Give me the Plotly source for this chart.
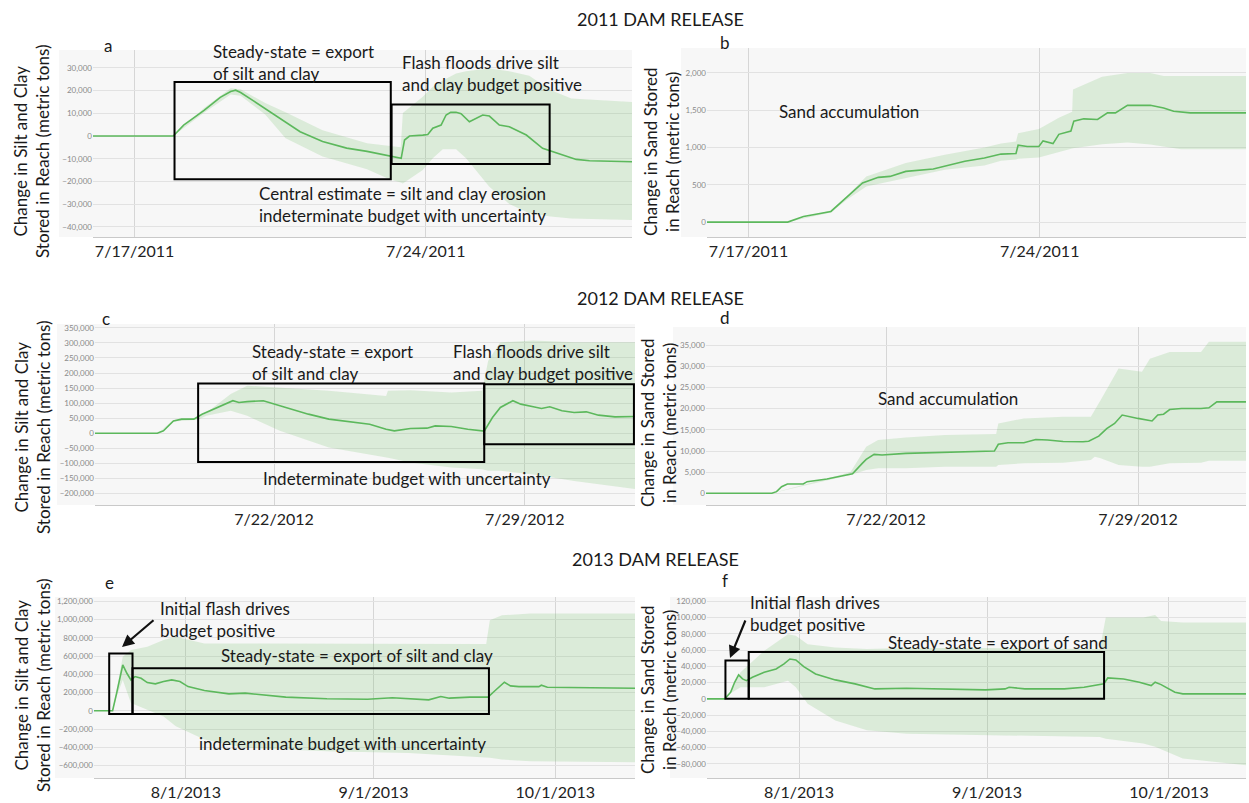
import pandas as pd
import plotly.graph_objects as go

W, H = 1249, 803
FONT = "Lato, 'Open Sans', sans-serif"
LINE_COLOR = "#5cb85c"
BAND_COLOR = "rgba(110,190,100,0.2)"

# ---------------- data (days since panel start date) ----------------
# Panel a: 2011 silt & clay (start 2011-07-16)
A_LINE_DAYS = [0, 1.93, 2.18, 2.67, 3.06, 3.31, 3.43, 3.55, 3.85, 4.14, 4.63, 4.98, 5.52, 6.10, 6.59, 6.99,
               7.41, 7.49, 7.61, 7.93, 8.05, 8.17, 8.37, 8.49, 8.60, 8.73, 8.85, 9.05, 9.37, 9.53, 9.77,
               10.01, 10.42, 10.81, 11.14, 11.62, 11.94, 12.96]
A_LINE = [0, 0, 4760, 11260, 17030, 19620, 20200, 19190, 15580, 11980, 6200, 1880, -2450, -5340, -6780, -8230,
          -9850, -1760, 0, 400, 700, 3400, 4850, 9260, 10400, 10440, 9800, 6300, 9260, 8800, 4850,
          4100, 440, -5430, -7350, -10300, -10880, -11320]
A_BAND_DAYS = [0, 1.93, 2.67, 3.31, 3.55, 4.14, 4.63, 5.52, 6.59, 7.13, 7.40, 7.45, 7.93, 8.17, 8.41, 8.73,
               8.97, 9.21, 9.53, 10.01, 10.49, 11.0, 11.5, 12.96]
A_UPPER = [0, 0, 12300, 21000, 20600, 14500, 10500, 2500, -3200, -4500, -5000, 10100, 17300, 21700, 24500, 27500,
           28500, 29100, 29800, 28500, 26500, 20300, 16500, 15000]
A_LOWER = [0, 0, 10300, 18300, 17700, 9500, -1000, -9000, -14700, -19000, -20500, -20900, -15000, -9850, -5870, -5870,
           -9850, -15000, -22360, -30000, -34000, -35500, -36400, -37000]

# Panel b: 2011 sand (start 2011-07-16)
B_LINE_DAYS = [0, 1.94, 2.32, 2.98, 3.74, 4.12, 4.40, 4.78, 5.44, 6.20, 6.67, 7.07, 7.43, 7.48, 7.70, 7.98,
               8.08, 8.32, 8.46, 8.75, 8.82, 9.06, 9.39, 9.63, 9.82, 10.11, 10.66, 10.98, 11.22, 11.62, 12.96]
B_LINE = [0, 0, 76, 143, 524, 600, 613, 680, 712, 815, 860, 912, 920, 1031, 1013, 1013,
          1089, 1053, 1177, 1221, 1354, 1385, 1376, 1465, 1465, 1566, 1566, 1531, 1487, 1465, 1465]
B_BAND_DAYS = [0, 1.94, 2.98, 3.36, 3.83, 4.78, 5.72, 6.67, 7.07, 7.43, 7.48, 7.98, 8.46, 8.78, 8.80, 9.5,
               10.11, 10.66, 10.98, 11.4, 12.96]
B_UPPER = [0, 0, 160, 345, 613, 792, 904, 1000, 1055, 1080, 1190, 1250, 1400, 1480, 1780, 1950,
           2000, 2000, 1960, 1960, 1960]
B_LOWER = [0, 0, 130, 300, 479, 591, 703, 760, 823, 840, 850, 867, 934, 978, 990, 1045,
           1067, 1040, 1010, 978, 978]

# Panel c: 2012 silt & clay (start 2012-07-17)
C_LINE_DAYS = [0, 1.74, 1.91, 2.19, 2.42, 2.76, 2.99, 3.33, 3.62, 3.85, 4.02, 4.25, 4.70, 4.93, 5.39, 5.96,
               6.53, 7.10, 7.67, 8.13, 8.36, 8.81, 9.27, 9.50, 9.95, 10.41, 10.75, 10.87, 11.10, 11.32, 11.67,
               11.89, 12.24, 12.47, 12.70, 13.04, 13.38, 13.72, 14.06, 14.52, 15.08]
C_LINE = [0, 0, 7800, 41000, 46700, 46700, 63000, 80000, 96700, 108000, 102000, 105000, 108000, 100000, 85500, 63300,
          46700, 38900, 30000, 13300, 7800, 15600, 16700, 24400, 22200, 13300, 7800, 7000, 52000, 85500, 108000,
          96700, 87800, 82000, 87800, 74400, 68900, 71000, 60000, 54400, 55600]
C_BAND_DAYS = [0, 1.74, 2.19, 2.88, 3.11, 3.79, 4.25, 5.16, 6.53, 8.13, 8.18, 8.81, 9.95, 10.81, 10.98, 11.32,
               12.24, 13.38, 15.15]
C_UPPER = [0, 0, 43000, 52000, 68000, 130000, 158000, 152000, 141000, 124000, 141000, 143000, 135000, 141000,
           241000, 302000, 308000, 302000, 302000]
C_LOWER = [0, 0, 39000, 45000, 57800, 74400, 57800, 7800, -47800, -81000, -82000, -97800, -114000, -120000,
           -125000, -125000, -137000, -159000, -187000]

# Panel d: 2012 sand (start 2012-07-17)
D_LINE_DAYS = [0, 1.83, 1.96, 2.10, 2.26, 2.70, 2.81, 3.36, 3.80, 4.02, 4.07, 4.34, 4.45, 4.67, 4.89, 5.55,
               6.64, 7.74, 8.01, 8.12, 8.39, 8.83, 9.05, 9.16, 9.49, 9.92, 10.47, 10.63, 10.91, 11.13, 11.35,
               11.56, 12.00, 12.22, 12.39, 12.55, 12.71, 12.88, 13.21, 13.75, 13.97, 14.19, 15.0]
D_LINE = [0, 0, 390, 1570, 2200, 2200, 2750, 3380, 4170, 4560, 4600, 7080, 8020, 9200, 9040, 9430,
          9750, 9980, 9980, 11600, 11950, 11950, 12400, 12700, 12600, 12260, 12190, 12300, 13500, 15300, 16500,
          18500, 17700, 17450, 17100, 18500, 18700, 19800, 20050, 20050, 20200, 21600, 21600]
D_BAND_DAYS = [0, 1.83, 3.80, 4.02, 4.45, 4.78, 5.55, 6.64, 8.06, 8.12, 8.83, 9.92, 10.69, 10.80, 10.96, 11.46,
               12.11, 12.33, 12.88, 13.75, 13.97, 15.0]
D_UPPER = [0, 0, 4500, 5100, 11000, 12600, 13200, 13760, 14000, 16500, 17700, 18100, 18100, 19650, 22000, 29500,
           28700, 31800, 33400, 33400, 35800, 35800]
D_LOWER = [0, 0, 3900, 4320, 5500, 5900, 5900, 6300, 6300, 6700, 7080, 7240, 7860, 8650, 8260, 6680,
           6300, 6300, 7080, 7240, 7700, 7700]

# Panel e: 2013 silt & clay (start 2013-07-17)
E_LINE_DAYS = [-0.17, 2.9, 3.57, 4.58, 5.26, 5.93, 6.60, 7.61, 8.63, 9.97, 11.32, 12.67, 14.02, 15.36, 18.06, 22.1,
               24.8, 28.2, 31.5, 38.3, 45.0, 49.1, 51.8, 55.1, 57.1, 58.5, 61.9, 64.9, 65.9, 67.6, 68.6, 70.0,
               73.3, 73.7, 74.7, 89.2]
E_LINE = [0, 0, 193000, 502000, 411000, 338000, 375000, 356000, 309000, 295000, 320000, 338000, 320000, 265000,
          222000, 185000, 193000, 167000, 149000, 131000, 127000, 142000, 131000, 120000, 156000, 138000, 149000,
          149000, 211000, 313000, 273000, 265000, 265000, 280000, 258000, 247000]
E_BAND_DAYS = [-0.17, 2.9, 3.57, 4.58, 5.93, 8.63, 11.32, 13.34, 18.06, 24.8, 38.3, 51.8, 64.6, 65.2, 67.2, 71.9, 89.2]
E_UPPER = [0, 0, 230000, 593000, 665000, 702000, 775000, 811000, 738000, 738000, 731000, 731000, 731000, 993000,
           1047000, 1065000, 1065000]
E_LOWER = [0, 0, 160000, 338000, 84000, 11000, -62000, -171000, -316000, -407000, -444000, -462000, -516000,
           -516000, -535000, -553000, -564000]

# Panel f: 2013 sand (start 2013-07-17)
F_LINE_DAYS = [-0.17, 2.76, 3.74, 4.39, 5.04, 5.69, 6.34, 7.32, 9.27, 11.22, 12.53, 13.5, 14.48, 15.78, 17.73,
               20.99, 24.24, 27.5, 32.71, 39.22, 45.73, 48.98, 49.64, 52.24, 58.75, 62.0, 65.26, 65.91, 68.52,
               71.12, 73.07, 73.72, 74.7, 76.98, 78.28, 88.7]
F_LINE = [0, 0, 8200, 20400, 29400, 24500, 22400, 26500, 32700, 36700, 42900, 49000, 47800, 39600, 30600,
          23300, 18400, 12200, 13100, 12200, 11000, 12200, 14300, 12200, 12200, 14300, 18400, 25700, 24500,
          20400, 16300, 20400, 17500, 8200, 6100, 6100]
F_BAND_DAYS = [-0.17, 2.76, 3.74, 5.36, 9.27, 13.18, 14.48, 16.43, 20.99, 26.2, 32.71, 45.73, 64.6, 65.58, 71.77,
               73.72, 74.7, 78.28, 88.7]
F_UPPER = [0, 0, 9000, 32700, 59200, 79600, 77600, 67300, 63300, 61200, 62400, 62400, 61200, 100000, 100000,
           103000, 95900, 93900, 93900]
F_LOWER = [0, 0, 7000, 14300, 14300, 22400, 14300, -6100, -26500, -38800, -42900, -44900, -47000, -49000, -55100,
           -59000, -62000, -73500, -81600]

# tick labels
TICKS_2011 = ["2011-07-17", "2011-07-24"]
TICKTEXT_2011 = ["7/17/2011", "7/24/2011"]
TICKS_2012 = ["2012-07-22", "2012-07-29"]
TICKTEXT_2012 = ["7/22/2012", "7/29/2012"]
TICKS_2013 = ["2013-08-01", "2013-09-01", "2013-10-01"]
TICKTEXT_2013 = ["8/1/2013", "9/1/2013", "10/1/2013"]

TITLES = ["2011 DAM RELEASE", "2012 DAM RELEASE", "2013 DAM RELEASE"]
SILT_TITLE = "Change in Silt and Clay<br>Stored in Reach (metric tons)"
SAND_TITLE = "Change in Sand Stored<br>in Reach (metric tons)"


def dates(start, days):
    s = pd.Timestamp(start)
    return [(s + pd.Timedelta(days=float(d))).strftime("%Y-%m-%d %H:%M:%S") for d in days]


def px(x):
    return x / W


def py(y):
    return 1 - y / H


panels = [
    dict(start="2011-07-16", line=(A_LINE_DAYS, A_LINE), band=(A_BAND_DAYS, A_UPPER, A_LOWER),
         dom=(93, 632, 50, 237), bgl=59, xr=(0, 12.96), yr=(-44500, 37900), dt=10000,
         ticks=(TICKS_2011, TICKTEXT_2011)),
    dict(start="2011-07-16", line=(B_LINE_DAYS, B_LINE), band=(B_BAND_DAYS, B_UPPER, B_LOWER),
         dom=(707, 1246, 48, 237), bgl=681, xr=(0, 12.96), yr=(-200, 2335), dt=500,
         ticks=(TICKS_2011, TICKTEXT_2011)),
    dict(start="2012-07-17", line=(C_LINE_DAYS, C_LINE), band=(C_BAND_DAYS, C_UPPER, C_LOWER),
         dom=(95, 635, 324, 505), bgl=57, xr=(0, 15.08), yr=(-238700, 363000), dt=50000,
         ticks=(TICKS_2012, TICKTEXT_2012)),
    dict(start="2012-07-17", line=(D_LINE_DAYS, D_LINE), band=(D_BAND_DAYS, D_UPPER, D_LOWER),
         dom=(706, 1246, 327, 505), bgl=673, xr=(0, 15.0), yr=(-2760, 39300), dt=5000,
         ticks=(TICKS_2012, TICKTEXT_2012)),
    dict(start="2013-07-17", line=(E_LINE_DAYS, E_LINE), band=(E_BAND_DAYS, E_UPPER, E_LOWER),
         dom=(94, 635, 597, 778), bgl=55, xr=(-0.17, 89.17), yr=(-737000, 1247000), dt=200000,
         ticks=(TICKS_2013, TICKTEXT_2013)),
    dict(start="2013-07-17", line=(F_LINE_DAYS, F_LINE), band=(F_BAND_DAYS, F_UPPER, F_LOWER),
         dom=(707, 1246, 597, 778), bgl=670, xr=(-0.17, 88.7), yr=(-97400, 125300), dt=20000,
         ticks=(TICKS_2013, TICKTEXT_2013)),
]

fig = go.Figure()
layout = dict(width=W, height=H, margin=dict(l=0, r=0, t=0, b=0), paper_bgcolor="white",
              plot_bgcolor="#f7f7f7", showlegend=False, font=dict(family=FONT, color="#222"))
shapes = []

for i, p in enumerate(panels):
    n = "" if i == 0 else str(i + 1)
    xa, ya = "x" + n, "y" + n
    bd, up, lo = p["band"]
    bx = dates(p["start"], bd)
    fig.add_trace(go.Scatter(x=bx, y=lo, xaxis=xa, yaxis=ya, mode="lines", line=dict(width=0),
                             hoverinfo="skip"))
    fig.add_trace(go.Scatter(x=bx, y=up, xaxis=xa, yaxis=ya, mode="lines", line=dict(width=0),
                             fill="tonexty", fillcolor=BAND_COLOR, hoverinfo="skip"))
    ld, lv = p["line"]
    fig.add_trace(go.Scatter(x=dates(p["start"], ld), y=lv, xaxis=xa, yaxis=ya, mode="lines",
                             line=dict(color=LINE_COLOR, width=1.6)))
    x0, x1, y0, y1 = p["dom"]
    layout["xaxis" + n] = dict(domain=[px(x0), px(x1)], anchor=ya, type="date",
                               range=dates(p["start"], p["xr"]), tickvals=p["ticks"][0],
                               ticktext=p["ticks"][1], showgrid=True, gridcolor="#d6d6d6",
                               showline=True, linecolor="#c9c9c9", linewidth=1, zeroline=False,
                               tickfont=dict(size=16, color="#222", family=FONT), ticks="")
    layout["yaxis" + n] = dict(domain=[py(y1), py(y0)], anchor=xa, range=list(p["yr"]),
                               dtick=p["dt"], tick0=0, tickformat=",", showgrid=True,
                               gridcolor="#e2e2e2", zeroline=False, showline=False, ticks="",
                               tickfont=dict(size=8, color="#8a8a8a", family=FONT))
    shapes.append(dict(type="rect", xref="paper", yref="paper", x0=px(p["bgl"]), x1=px(x0),
                       y0=py(y1), y1=py(y0), fillcolor="#f7f7f7", line=dict(width=0), layer="below"))

# annotation boxes (panel index, start, x0, x1 in days, y0, y1)
BOXES = [
    (0, "2011-07-16", 1.96, 7.16, -19000, 23800),
    (0, "2011-07-16", 7.18, 10.98, -12300, 13900),
    (2, "2012-07-17", 2.88, 10.87, -95600, 165600),
    (2, "2012-07-17", 10.87, 15.05, -36700, 163000),
    (4, "2013-07-17", 2.34, 6.19, -36000, 629000),
    (4, "2013-07-17", 6.19, 65.05, -36000, 466000),
    (5, "2013-07-17", 2.87, 6.71, 0, 47200),
    (5, "2013-07-17", 6.71, 65.3, 0, 57500),
]
for idx, st, a0, a1, b0, b1 in BOXES:
    n = "" if idx == 0 else str(idx + 1)
    d0, d1 = dates(st, [a0, a1])
    shapes.append(dict(type="rect", xref="x" + n, yref="y" + n, x0=d0, x1=d1, y0=b0, y1=b1,
                       line=dict(color="black", width=2), fillcolor="rgba(0,0,0,0)", layer="above"))

layout["shapes"] = shapes

anns = []


def ann(text, x, y, size=17, xanchor="left", yanchor="middle", angle=0):
    anns.append(dict(text=text, x=px(x), y=py(y), xref="paper", yref="paper", showarrow=False,
                     xanchor=xanchor, yanchor=yanchor, align="left" if xanchor == "left" else "center",
                     textangle=angle, font=dict(size=size, color="#1a1a1a", family=FONT)))


# section titles
ann(TITLES[0], 660, 19, size=18, xanchor="center")
ann(TITLES[1], 660, 298, size=18, xanchor="center")
ann(TITLES[2], 655, 559, size=18, xanchor="center")
# panel letters
for letter, x, y in [("a", 108, 45), ("b", 725, 43), ("c", 106, 318), ("d", 725, 317),
                     ("e", 109, 582), ("f", 725, 580)]:
    ann(letter, x, y, size=17, xanchor="center")
# y-axis titles
ann(SILT_TITLE, 32, 152, size=17, xanchor="center", angle=-90)
ann(SAND_TITLE, 662, 152, size=17, xanchor="center", angle=-90)
ann(SILT_TITLE, 32, 428, size=17, xanchor="center", angle=-90)
ann(SAND_TITLE, 658, 423, size=17, xanchor="center", angle=-90)
ann(SILT_TITLE, 32, 686, size=17, xanchor="center", angle=-90)
ann(SAND_TITLE, 658, 690, size=17, xanchor="center", angle=-90)
# panel texts
ann("Steady-state = export<br>of silt and clay", 211, 63)
ann("Flash floods drive silt<br>and clay budget positive", 400, 73)
ann("Central estimate = silt and clay erosion<br>indeterminate budget with uncertainty", 257, 204)
ann("Sand accumulation", 777, 111)
ann("Steady-state = export<br>of silt and clay", 250, 362)
ann("Flash floods drive silt<br>and clay budget positive", 451, 362)
ann("Indeterminate budget with uncertainty", 261, 478)
ann("Sand accumulation", 876, 398)
ann("Initial flash drives<br>budget positive", 158, 619)
ann("Steady-state = export of silt and clay", 219, 655)
ann("indeterminate budget with uncertainty", 197, 743)
ann("Initial flash drives<br>budget positive", 748, 613)
ann("Steady-state = export of sand", 886, 642)
# arrows
for tipx, tipy, tailx, taily in [(122, 647, 155, 619), (730, 658, 746, 619)]:
    anns.append(dict(x=px(tipx), y=py(tipy), xref="paper", yref="paper", text="", showarrow=True,
                     ax=tailx - tipx, ay=taily - tipy, arrowhead=2, arrowsize=1.1, arrowwidth=2.2,
                     arrowcolor="#111"))
layout["annotations"] = anns

fig.update_layout(**layout)
fig.write_html("out.html")
